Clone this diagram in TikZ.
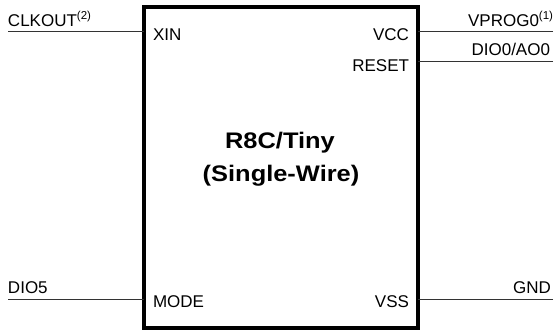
\documentclass[tikz,border=0pt]{standalone}
\usepackage{fontspec}
\setmainfont{Liberation Sans}
\newfontfamily\titlefont[FakeStretch=1.13]{Liberation Sans}
\newcommand{\supnote}[1]{\raisebox{7.5pt}{\fontsize{11.5}{12}\selectfont(#1)}}
\begin{document}
\begin{tikzpicture}[x=1pt,y=-1pt,
  lbl/.style={inner sep=0pt,outer sep=0pt,font=\fontsize{17}{20}\selectfont},
  title/.style={inner sep=0pt,outer sep=0pt,font=\titlefont\fontsize{22.5}{28}\selectfont\bfseries},
  pinline/.style={line width=1pt,draw=black!80},
  chipbox/.style={draw=black,line width=4.5pt,inner sep=0pt,outer sep=0pt,
    minimum width=274pt,minimum height=321pt}]
\useasboundingbox (0,0) rectangle (556,331);
\node[chipbox,anchor=north west] (chip) at (144,7) {};
% title
\node[title,anchor=base] (t1) at (280,149) {R8C/Tiny};
\node[title,anchor=base] (t2) at (281,182) {(Single-Wire)};
% pin ends
\coordinate (clk) at (8,32);
\coordinate (vcc) at (553,32);
\coordinate (rst) at (553,62);
\coordinate (dio) at (8,299);
\coordinate (gnd) at (553,299);
\draw[pinline] (clk) -- (clk -| chip.west);
\draw[pinline] (vcc) -- (vcc -| chip.east);
\draw[pinline] (rst) -- (rst -| chip.east);
\draw[pinline] (dio) -- (dio -| chip.west);
\draw[pinline] (gnd) -- (gnd -| chip.east);
% outer labels
\node[lbl,anchor=base west] (lclk) at (8,27) {CLKOUT\supnote{2}};
\node[lbl,anchor=base east] (lvp) at (553,27) {VPROG0\supnote{1}};
\node[lbl,anchor=base east] (ldio0) at (550,56) {DIO0/AO0};
\node[lbl,anchor=base west] (ldio5) at (8,293) {DIO5};
\node[lbl,anchor=base east] (lgnd) at (551,293) {GND};
% inner labels
\node[lbl,anchor=base west] (lxin) at (153,41) {XIN};
\node[lbl,anchor=base east] (lvcc) at (409,41) {VCC};
\node[lbl,anchor=base east] (lrst) at (409,72) {RESET};
\node[lbl,anchor=base west] (lmode) at (153,307) {MODE};
\node[lbl,anchor=base east] (lvss) at (409,307) {VSS};
\end{tikzpicture}
\end{document}
